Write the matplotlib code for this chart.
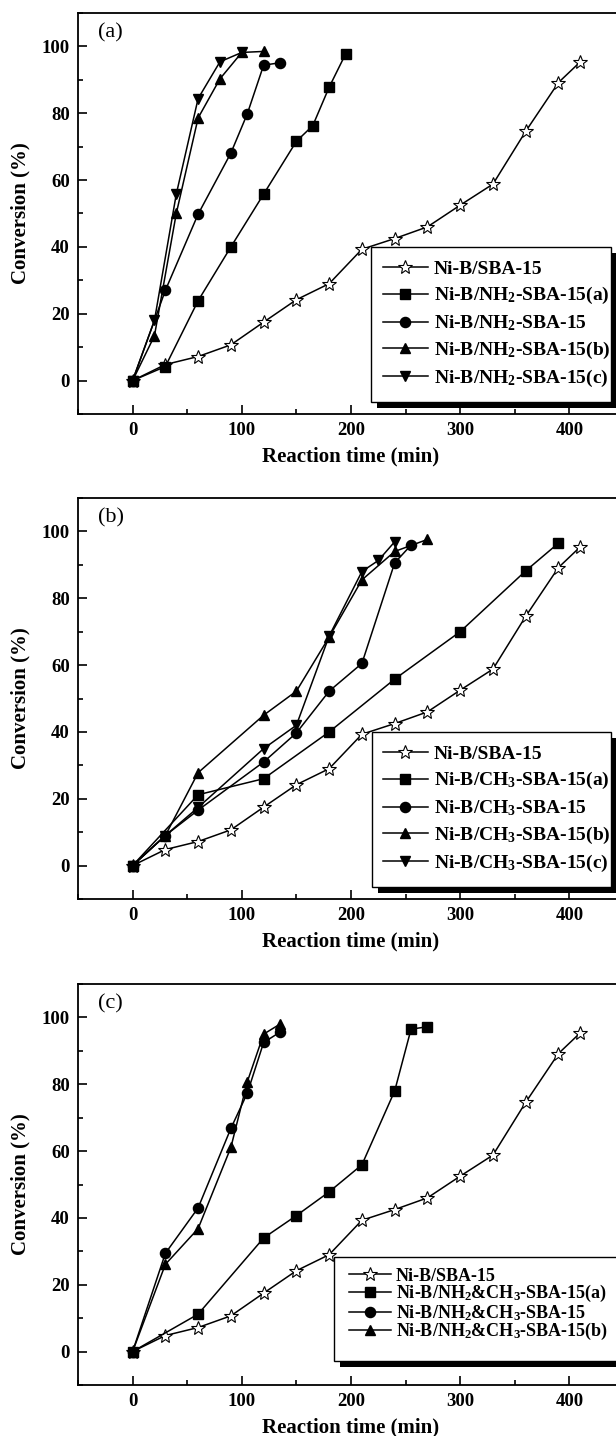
import matplotlib
matplotlib.use("Agg")
import matplotlib.pyplot as plt
from matplotlib.patches import Rectangle
from matplotlib.ticker import MultipleLocator

plt.rcParams['font.family'] = ['Liberation Serif', 'DejaVu Serif']
plt.rcParams['mathtext.fontset'] = 'custom'
plt.rcParams['mathtext.rm'] = 'Liberation Serif:bold'
plt.rcParams['mathtext.bf'] = 'Liberation Serif:bold'
plt.rcParams['mathtext.it'] = 'Liberation Serif:bold'

# ---------------- data ----------------
ref_x = [0, 30, 60, 90, 120, 150, 180, 210, 240, 270, 300, 330, 360, 390, 410]
ref_y = [0, 4.8, 7.2, 10.7, 17.5, 24.2, 29.0, 39.3, 42.5, 46.0, 52.5, 58.8, 74.6, 89.2, 95.4]

# panel (a) NH2
a_sq_x = [0, 30, 60, 90, 120, 150, 165, 180, 195]
a_sq_y = [0, 4.2, 23.9, 40.0, 55.8, 71.6, 76.3, 87.8, 97.7]
a_ci_x = [0, 30, 60, 90, 105, 120, 135]
a_ci_y = [0, 27.0, 49.8, 68.1, 79.8, 94.4, 95.1]
a_tu_x = [0, 20, 40, 60, 80, 100, 120]
a_tu_y = [0, 13.4, 50.0, 78.6, 90.3, 98.2, 98.5]
a_td_x = [0, 20, 40, 60, 80, 100]
a_td_y = [0, 18.0, 55.8, 84.4, 95.4, 98.2]

# panel (b) CH3
b_sq_x = [0, 60, 120, 180, 240, 300, 360, 390]
b_sq_y = [0, 21.2, 26.0, 40.0, 55.8, 70.0, 88.2, 96.5]
b_ci_x = [0, 30, 60, 120, 150, 180, 210, 240, 255]
b_ci_y = [0, 9.0, 16.6, 31.0, 39.7, 52.2, 60.5, 90.6, 95.9]
b_tu_x = [0, 30, 60, 120, 150, 180, 210, 240, 270]
b_tu_y = [0, 9.0, 27.8, 45.0, 52.2, 68.4, 85.5, 94.0, 97.6]
b_td_x = [0, 30, 60, 120, 150, 180, 210, 225, 240]
b_td_y = [0, 9.0, 17.4, 35.0, 42.0, 68.7, 88.0, 91.3, 96.9]

# panel (c) NH2&CH3
c_sq_x = [0, 60, 120, 150, 180, 210, 240, 255, 270]
c_sq_y = [0, 11.2, 34.0, 40.7, 47.8, 55.9, 78.0, 96.5, 97.2]
c_ci_x = [0, 30, 60, 90, 105, 120, 135]
c_ci_y = [0, 29.4, 43.0, 66.8, 77.3, 92.5, 95.6]
c_tu_x = [0, 30, 60, 90, 105, 120, 135]
c_tu_y = [0, 26.1, 36.8, 61.1, 80.7, 95.0, 98.0]

labels_a = ['Ni-B/SBA-15', r'Ni-B/NH$_2$-SBA-15(a)', r'Ni-B/NH$_2$-SBA-15',
            r'Ni-B/NH$_2$-SBA-15(b)', r'Ni-B/NH$_2$-SBA-15(c)']
labels_b = ['Ni-B/SBA-15', r'Ni-B/CH$_3$-SBA-15(a)', r'Ni-B/CH$_3$-SBA-15',
            r'Ni-B/CH$_3$-SBA-15(b)', r'Ni-B/CH$_3$-SBA-15(c)']
labels_c = ['Ni-B/SBA-15', r'Ni-B/NH$_2$&CH$_3$-SBA-15(a)', r'Ni-B/NH$_2$&CH$_3$-SBA-15',
            r'Ni-B/NH$_2$&CH$_3$-SBA-15(b)']
panel_tags = ['(a)', '(b)', '(c)']

# ---------------- figure ----------------
W, H = 616, 1436
fig = plt.figure(figsize=(W / 100, H / 100), dpi=100)

ax_left_px = 78
ax_w_px = 546
ax_h_px = 401
tops_px = [13, 498, 984]

markers = [dict(marker='*', ms=10.5, mfc='white', mec='black', mew=0.8),
           dict(marker='s', ms=6.8, mfc='black', mec='black'),
           dict(marker='o', ms=7.3, mfc='black', mec='black'),
           dict(marker='^', ms=7.8, mfc='black', mec='black'),
           dict(marker='v', ms=7.8, mfc='black', mec='black')]

panels = [
    ([(ref_x, ref_y), (a_sq_x, a_sq_y), (a_ci_x, a_ci_y), (a_tu_x, a_tu_y), (a_td_x, a_td_y)], labels_a,
     (371, 247, 611, 402), 383, 325, 14, 0.36),
    ([(ref_x, ref_y), (b_sq_x, b_sq_y), (b_ci_x, b_ci_y), (b_tu_x, b_tu_y), (b_td_x, b_td_y)], labels_b,
     (372, 732, 611, 887), 383, 810, 14, 0.36),
    ([(ref_x, ref_y), (c_sq_x, c_sq_y), (c_ci_x, c_ci_y), (c_tu_x, c_tu_y)], labels_c,
     (334, 1257, 622, 1361), 349, 1305, 13, -0.08),
]


def px_to_axes(ax_top, px, py):
    return ((px - ax_left_px) / ax_w_px, (ax_top + ax_h_px - py) / ax_h_px)


for i, (series, labels, box, ex, ey, fs, lsp) in enumerate(panels):
    top = tops_px[i]
    ax = fig.add_axes([ax_left_px / W, 1 - (top + ax_h_px) / H, ax_w_px / W, ax_h_px / H])
    for (xs, ys), mk, lab in zip(series, markers, labels):
        ax.plot(xs, ys, color='black', lw=1.1, label=lab, clip_on=False, **mk)
    ax.set_xlim(-50, 450)
    ax.set_ylim(-10, 110)
    ax.xaxis.set_major_locator(MultipleLocator(100))
    ax.xaxis.set_minor_locator(MultipleLocator(50))
    ax.yaxis.set_minor_locator(MultipleLocator(10))
    ax.set_yticks([0, 20, 40, 60, 80, 100])
    ax.tick_params(which='both', direction='in', width=1.2, top=False, right=False)
    ax.tick_params(which='major', length=6.5, labelsize=13.5, pad=6)
    ax.tick_params(which='minor', length=3.5)
    for lab in ax.get_xticklabels() + ax.get_yticklabels():
        lab.set_fontweight('bold')
    for sp in ax.spines.values():
        sp.set_linewidth(1.3)
    ax.set_xlabel('Reaction time (min)', fontsize=15, fontweight='bold', labelpad=5)
    ax.set_ylabel('Conversion (%)', fontsize=15, fontweight='bold', labelpad=8)
    ax.text(-31.5, 104, panel_tags[i], fontsize=16, ha='left', va='center')

    # legend frame and shadow
    x0, y0 = px_to_axes(top, box[0], box[3])
    x1, y1 = px_to_axes(top, box[2], box[1])
    dx, dy = 6 / ax_w_px, 6 / ax_h_px
    ax.add_patch(Rectangle((x0 + dx, y0 - dy), x1 - x0, y1 - y0, transform=ax.transAxes,
                           facecolor='black', edgecolor='none', zorder=5.0, clip_on=False))
    ax.add_patch(Rectangle((x0, y0), x1 - x0, y1 - y0, transform=ax.transAxes,
                           facecolor='white', edgecolor='black', lw=1.0, zorder=5.1, clip_on=False))

    lx, ly = px_to_axes(top, ex, ey)
    leg = ax.legend(loc='center left', bbox_to_anchor=(lx, ly), borderaxespad=0,
                    prop={'family': 'Liberation Serif', 'weight': 'bold', 'size': fs},
                    frameon=False, handlelength=2.3, handletextpad=0.3, labelspacing=lsp,
                    borderpad=0, numpoints=1)
    leg.set_zorder(6)

fig.savefig('out.png', dpi=100)
